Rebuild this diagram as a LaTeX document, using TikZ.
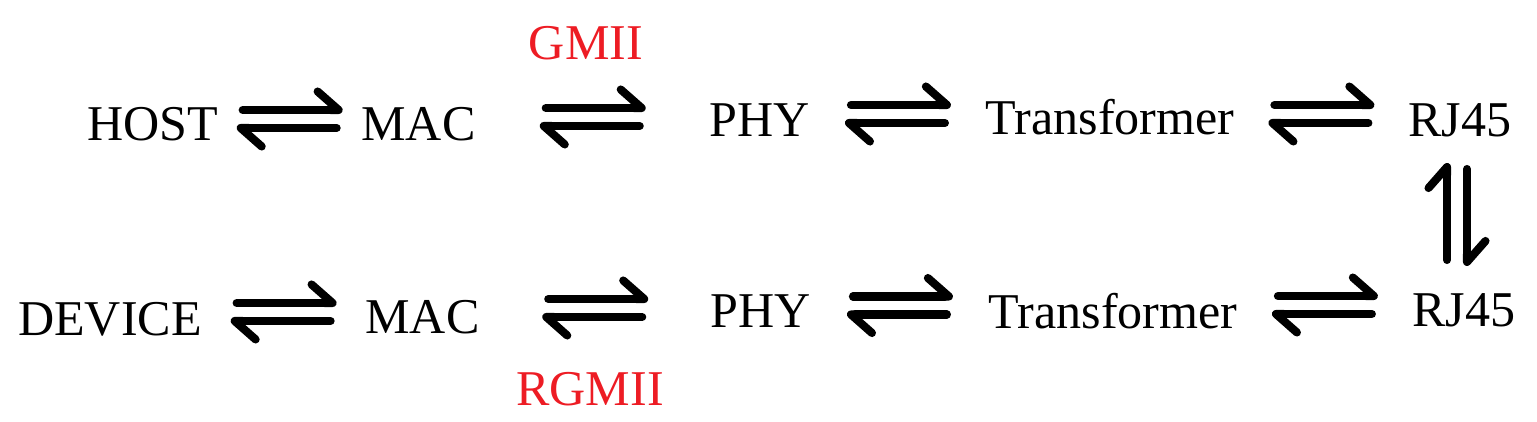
\documentclass[tikz,border=0pt]{standalone}
\usepackage{fontspec}
\setmainfont{Liberation Serif}
\usetikzlibrary{arrows.meta}
\definecolor{gmiired}{RGB}{237,28,36}
\tikzset{
  lbl/.style={inner sep=0pt, anchor=base, text height=18.8pt, text depth=0pt,
    font=\fontsize{28.5}{34}\selectfont},
  harp/.style={line width=4.6pt, line cap=round,
    -{Straight Barb[harpoon, round, length=0.42cm, width=0.74cm]}}
}
% par de arpones entre dos nodos
\newcommand{\harpoons}[2]{%
  \path (#1.east) -- coordinate[midway] (hm) (#2.west);
  \draw[harp] ([shift={(-47,-14.5)}]hm) -- ([shift={(53,-14.5)}]hm);
  \draw[harp] ([shift={(47,3.5)}]hm) -- ([shift={(-53,3.5)}]hm);
}

\begin{document}
\begin{tikzpicture}[x=0.02cm, y=-0.02cm]
  \useasboundingbox (0,0) rectangle (1537,422);

  % fila superior
  \node[lbl] (host) at (152.5,141) {HOST};
  \node[lbl] (mac1) at (418.5,141) {MAC};
  \node[lbl] (phy1) at (760,137) {PHY};
  \node[lbl] (tr1) at (1110,135) {Transformer};
  \node[lbl] (rj1) at (1460,137) {RJ45};
  \node[lbl, text=gmiired] (gmii) at (586,60) {GMII};

  % fila inferior
  \node[lbl] (dev) at (110,335) {DEVICE};
  \node[lbl] (mac2) at (422.5,333) {MAC};
  \node[lbl] (phy2) at (761,327) {PHY};
  \node[lbl] (tr2) at (1113,328) {Transformer};
  \node[lbl] (rj2) at (1464,326) {RJ45};
  \node[lbl, text=gmiired] (rgmii) at (590,405) {RGMII};

  % conexiones
  \harpoons{host}{mac1}
  \harpoons{mac1}{phy1}
  \harpoons{phy1}{tr1}
  \harpoons{tr1}{rj1}
  \harpoons{dev}{mac2}
  \harpoons{mac2}{phy2}
  \harpoons{phy2}{tr2}
  \harpoons{tr2}{rj2}

  % RJ45 a RJ45
  \path (rj1.south) -- coordinate[midway] (vm) (rj2.north);
  \draw[harp] ([shift={(-15,45)}]vm) -- ([shift={(-15,-52)}]vm);
  \draw[harp] ([shift={(5,-46)}]vm) -- ([shift={(5,51)}]vm);
\end{tikzpicture}
\end{document}
